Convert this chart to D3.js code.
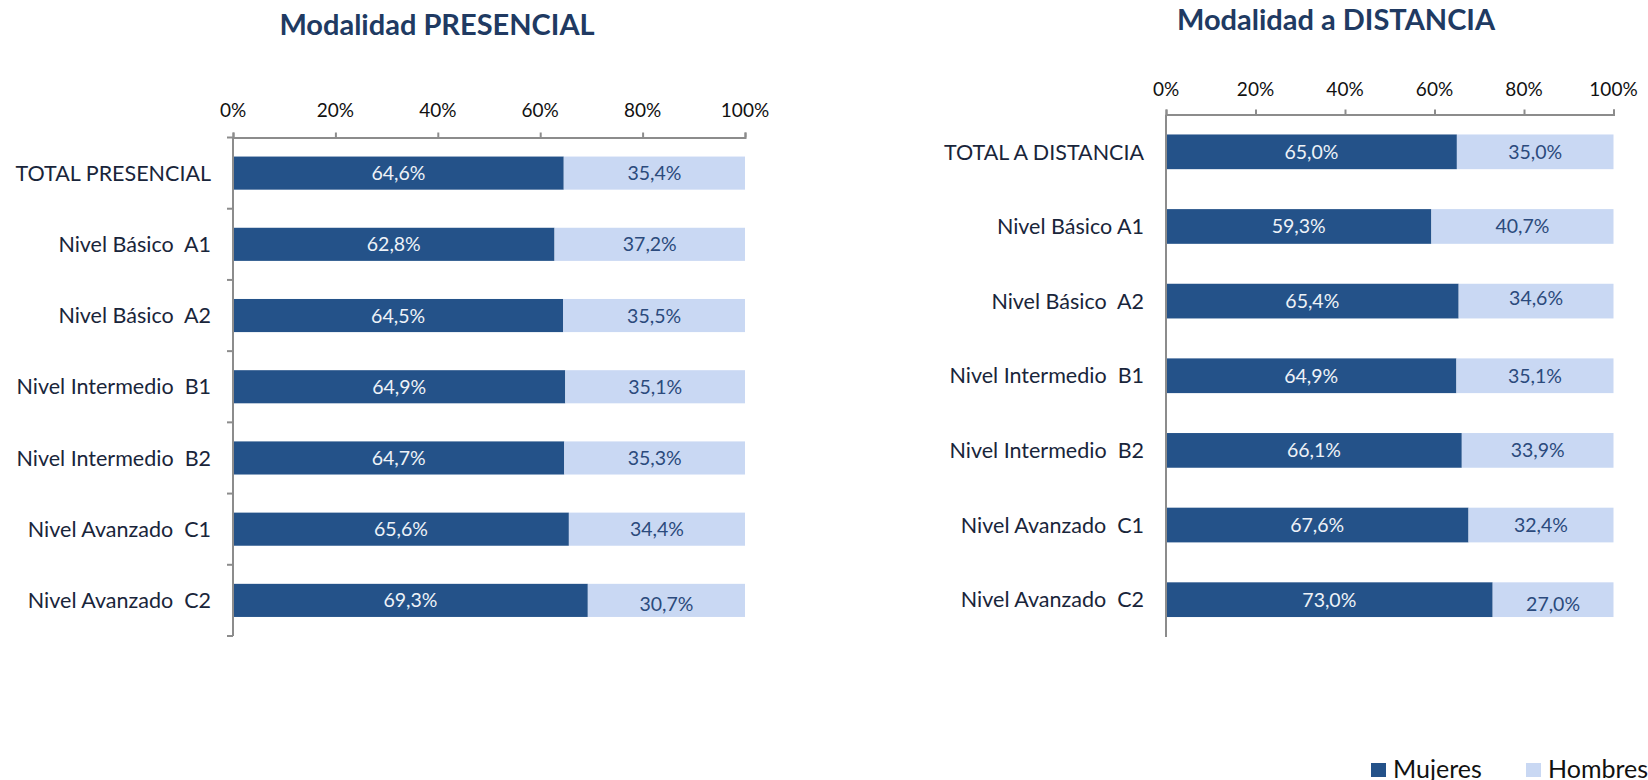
<!DOCTYPE html>
<html lang="es">
<head>
  <meta charset="UTF-8">
  <title>Modalidad presencial y a distancia - Mujeres / Hombres</title>
  <script src="https://d3js.org/d3.v7.min.js"></script>
  <style>
    body { margin: 0; background: #fff; }
    svg text { font-family: Lato, "Open Sans", sans-serif; white-space: pre; }
    .title { font-weight: bold; fill: #203a62; }
    .axis path, .axis line { stroke: #8c8c8c; stroke-width: 2px; }
    .tick-label { fill: #111; }
    .cat-label { fill: #19253a; }
  </style>
</head>
<body>
<svg id="chart" width="1648" height="780"></svg>
<script>
  // data
  const presencialCats = ['TOTAL PRESENCIAL', 'Nivel Básico  A1', 'Nivel Básico  A2',
    'Nivel Intermedio  B1', 'Nivel Intermedio  B2', 'Nivel Avanzado  C1', 'Nivel Avanzado  C2'];
  const presencialMujeres = [64.6, 62.8, 64.5, 64.9, 64.7, 65.6, 69.3];
  const presencialHombres = [35.4, 37.2, 35.5, 35.1, 35.3, 34.4, 30.7];

  const distanciaCats = ['TOTAL A DISTANCIA', 'Nivel Básico A1', 'Nivel Básico  A2',
    'Nivel Intermedio  B1', 'Nivel Intermedio  B2', 'Nivel Avanzado  C1', 'Nivel Avanzado  C2'];
  const distanciaMujeres = [65.0, 59.3, 65.4, 64.9, 66.1, 67.6, 73.0];
  const distanciaHombres = [35.0, 40.7, 34.6, 35.1, 33.9, 32.4, 27.0];

  const xTicks = [0, 20, 40, 60, 80, 100];
  const seriesNames = ['Mujeres', 'Hombres'];

  const colors = { Mujeres: '#245289', Hombres: '#c9d8f3' };
  const labelColors = { Mujeres: '#eef2f8', Hombres: '#2b4a7c' };

  const svg = d3.select('#chart');
  const fmt = v => v.toFixed(1).replace('.', ',') + '%';

  function drawPanel(opt) {
    const g = svg.append('g');
    const x = d3.scaleLinear().domain([0, 100]).range([opt.x0, opt.x1]);
    const y = d3.scaleBand().domain(opt.cats).range([opt.y0, opt.y1])
      .paddingInner(0.535).paddingOuter(0.2675);

    g.append('text')
      .attr('class', 'title')
      .attr('x', opt.titleX).attr('y', opt.titleY)
      .attr('text-anchor', 'middle')
      .style('font-size', '29px')
      .text(opt.title);

    const rows = opt.cats.map((c, i) => ({ cat: c, m: opt.mujeres[i], h: opt.hombres[i] }));

    // bars
    g.selectAll('rect.m').data(rows).enter().append('rect')
      .attr('x', x(0)).attr('y', d => y(d.cat))
      .attr('width', d => x(d.m) - x(0)).attr('height', y.bandwidth())
      .attr('fill', colors.Mujeres);
    g.selectAll('rect.h').data(rows).enter().append('rect')
      .attr('x', d => x(d.m)).attr('y', d => y(d.cat))
      .attr('width', d => x(d.m + d.h) - x(d.m)).attr('height', y.bandwidth())
      .attr('fill', colors.Hombres);

    // value labels
    g.selectAll('text.vm').data(rows).enter().append('text')
      .attr('x', d => (x(0) + x(d.m)) / 2)
      .attr('y', d => y(d.cat) + y.bandwidth() / 2)
      .attr('dy', '0.36em').attr('text-anchor', 'middle')
      .style('font-size', '19.5px').attr('fill', labelColors.Mujeres)
      .text(d => fmt(d.m));
    g.selectAll('text.vh').data(rows).enter().append('text')
      .attr('x', d => (x(d.m) + x(d.m + d.h)) / 2)
      .attr('y', d => y(d.cat) + y.bandwidth() / 2 + (opt.nudge[d.cat] || 0))
      .attr('dy', '0.36em').attr('text-anchor', 'middle')
      .style('font-size', '19.5px').attr('fill', labelColors.Hombres)
      .text(d => fmt(d.h));

    // top axis
    const xAxis = g.append('g').attr('class', 'axis')
      .attr('transform', `translate(0,${opt.y0})`)
      .call(d3.axisTop(x).tickValues(xTicks).tickSize(5).tickSizeOuter(5).tickFormat(''));
    xAxis.selectAll('.tick line').attr('stroke-width', 1.5);
    g.selectAll('text.tl').data(xTicks).enter().append('text')
      .attr('class', 'tick-label')
      .attr('x', d => x(d)).attr('y', opt.y0 - opt.tickGap)
      .attr('text-anchor', 'middle').style('font-size', '19px')
      .text(d => d + '%');

    // vertical category axis
    g.append('line').attr('class', 'axis')
      .attr('x1', x(0)).attr('x2', x(0)).attr('y1', opt.y0).attr('y2', opt.y1)
      .attr('stroke', '#8c8c8c').attr('stroke-width', 2);
    if (opt.catTicks) {
      const step = y.step();
      const bounds = d3.range(opt.cats.length + 1).map(i => opt.y0 + i * step);
      g.selectAll('line.ct').data(bounds).enter().append('line')
        .attr('x1', x(0) - 6).attr('x2', x(0))
        .attr('y1', d => d).attr('y2', d => d)
        .attr('stroke', '#8c8c8c').attr('stroke-width', 2);
    }
    g.selectAll('text.cl').data(opt.cats).enter().append('text')
      .attr('class', 'cat-label')
      .attr('x', x(0) - 22).attr('y', d => y(d) + y.bandwidth() / 2)
      .attr('dy', '0.36em').attr('text-anchor', 'end')
      .style('font-size', '21.5px')
      .text(d => d);
  }

  drawPanel({
    title: 'Modalidad PRESENCIAL', titleX: 437, titleY: 35,
    cats: presencialCats, mujeres: presencialMujeres, hombres: presencialHombres,
    x0: 233, x1: 745, y0: 137.5, y1: 636, tickGap: 21, catTicks: true,
    nudge: { 'Nivel Avanzado  C2': 4 }
  });

  drawPanel({
    title: 'Modalidad a DISTANCIA', titleX: 1336, titleY: 29.5,
    cats: distanciaCats, mujeres: distanciaMujeres, hombres: distanciaHombres,
    x0: 1166, x1: 1613.5, y0: 114.5, y1: 637, tickGap: 19, catTicks: false,
    nudge: { 'Nivel Básico  A2': -3, 'Nivel Avanzado  C2': 4 }
  });

  // legend (cut by the bottom edge, as in the source image)
  const legendX = [1371, 1526];
  const legend = svg.append('g');
  seriesNames.forEach((s, i) => {
    legend.append('rect').attr('x', legendX[i]).attr('y', 763)
      .attr('width', 15).attr('height', 14).attr('fill', colors[s]);
    legend.append('text').attr('x', legendX[i] + 22).attr('y', 778)
      .style('font-size', '25px').attr('fill', '#111').text(s);
  });
</script>
</body>
</html>
